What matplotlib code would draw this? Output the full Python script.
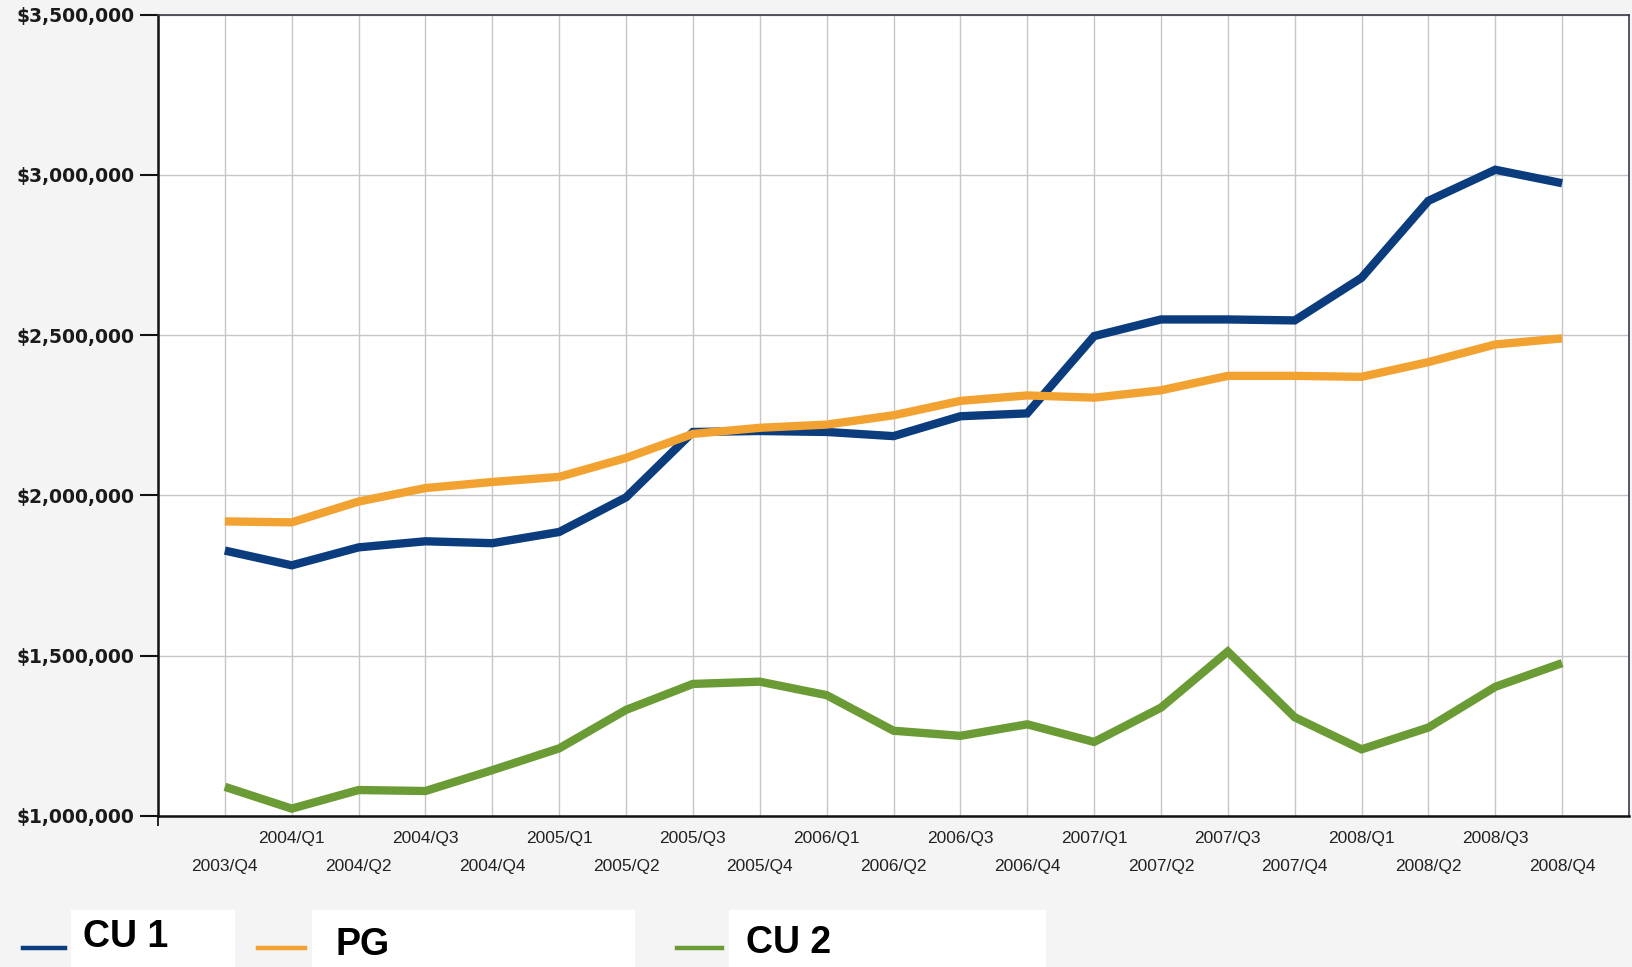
import matplotlib
matplotlib.use("Agg")
import matplotlib.pyplot as plt
from matplotlib import font_manager
from matplotlib.lines import Line2D
from matplotlib.patches import Rectangle
from matplotlib.ticker import FuncFormatter

quarters = ["2003/Q4", "2004/Q1", "2004/Q2", "2004/Q3", "2004/Q4",
            "2005/Q1", "2005/Q2", "2005/Q3", "2005/Q4",
            "2006/Q1", "2006/Q2", "2006/Q3", "2006/Q4",
            "2007/Q1", "2007/Q2", "2007/Q3", "2007/Q4",
            "2008/Q1", "2008/Q2", "2008/Q3", "2008/Q4"]

cu1 = [1828000, 1782000, 1838000, 1857000, 1851000, 1886000, 1994000,
       2198000, 2201000, 2198000, 2185000, 2247000, 2256000, 2497000,
       2549000, 2549000, 2546000, 2679000, 2919000, 3016000, 2974000]
pg = [1919000, 1916000, 1981000, 2023000, 2042000, 2058000, 2117000,
      2192000, 2211000, 2221000, 2250000, 2295000, 2312000, 2305000,
      2328000, 2373000, 2373000, 2370000, 2416000, 2471000, 2490000]
cu2 = [1091000, 1023000, 1081000, 1078000, 1143000, 1211000, 1331000,
       1412000, 1419000, 1377000, 1266000, 1250000, 1286000, 1231000,
       1338000, 1513000, 1308000, 1208000, 1276000, 1403000, 1477000]

series_names = ["CU 1", "PG", "CU 2"]
colors = ["#0b3c7d", "#f2a230", "#6a9b35"]

installed = {f.name for f in font_manager.fontManager.ttflist}
narrow = "Liberation Sans Narrow" if "Liberation Sans Narrow" in installed else "Liberation Sans"

W, H = 1632, 967
fig = plt.figure(figsize=(W / 100, H / 100), dpi=100, facecolor="#f4f4f4")
ax = fig.add_axes([158 / W, 1 - 816 / H, (1629 - 158) / W, (816 - 14.6) / H])
ax.set_facecolor("white")

x = list(range(len(quarters)))
for vals, c in zip([cu1, pg, cu2], colors):
    ax.plot(x, vals, color=c, lw=6.0, solid_joinstyle="miter", solid_capstyle="butt", zorder=3)

ax.set_xlim(-1, len(quarters))
ax.set_ylim(1000000, 3500000)
ax.set_yticks([1000000, 1500000, 2000000, 2500000, 3000000, 3500000])
ax.yaxis.set_major_formatter(FuncFormatter(lambda v, p: "${:,.0f}".format(v)))
for t in ax.get_yticklabels():
    t.set_fontfamily("DejaVu Sans")
    t.set_fontweight("bold")
    t.set_fontsize(13.5)
    t.set_color("#1a1a1a")
ax.tick_params(axis="y", direction="out", length=13, width=1.5, pad=4, color="#111111")

ax.set_xticks(x)
ax.set_xticklabels(quarters, fontfamily="Liberation Sans", fontsize=12.5, color="#222222")
ax.set_xticks([-1, 4, 9, 14, 19], minor=True)
ax.tick_params(axis="x", which="major", length=0)
ax.tick_params(axis="x", which="minor", direction="out", length=7, width=1.3, color="#111111")

ax.grid(True, which="major", color="#c6c6c6", lw=1.0, zorder=0)
ax.set_axisbelow(True)

for side in ["left", "bottom"]:
    ax.spines[side].set_color("#111111")
    ax.spines[side].set_linewidth(1.8)
for side in ["top", "right"]:
    ax.spines[side].set_color("#3a3a4a")
    ax.spines[side].set_linewidth(1.2)

for i, tick in enumerate(ax.xaxis.get_major_ticks()):
    tick.set_pad(11 if i % 2 == 1 else 31)

# legend at bottom
ytxt = [937, 945, 943]
line_x = [(23, 65), (258, 305), (677, 722)]
boxes = [(71, 235), (312, 635), (729, 1046)]
text_x = [83, 336, 746]
for name, c, (lx0, lx1), (bx0, bx1), tx, ty in zip(series_names, colors, line_x, boxes, text_x, ytxt):
    fig.add_artist(Rectangle((bx0 / W, 0), (bx1 - bx0) / W, (967 - 910) / H,
                             transform=fig.transFigure, facecolor="white", edgecolor="none"))
    fig.add_artist(Line2D([lx0 / W, lx1 / W], [1 - 948 / H, 1 - 948 / H],
                          transform=fig.transFigure, color=c, lw=3.2))
    fig.text(tx / W, 1 - ty / H, name, fontfamily=narrow, fontweight="bold",
             fontsize=28 if narrow != "Liberation Sans" else 27, color="black",
             va="center", ha="left")

fig.savefig("out.png", dpi=100, facecolor=fig.get_facecolor())
